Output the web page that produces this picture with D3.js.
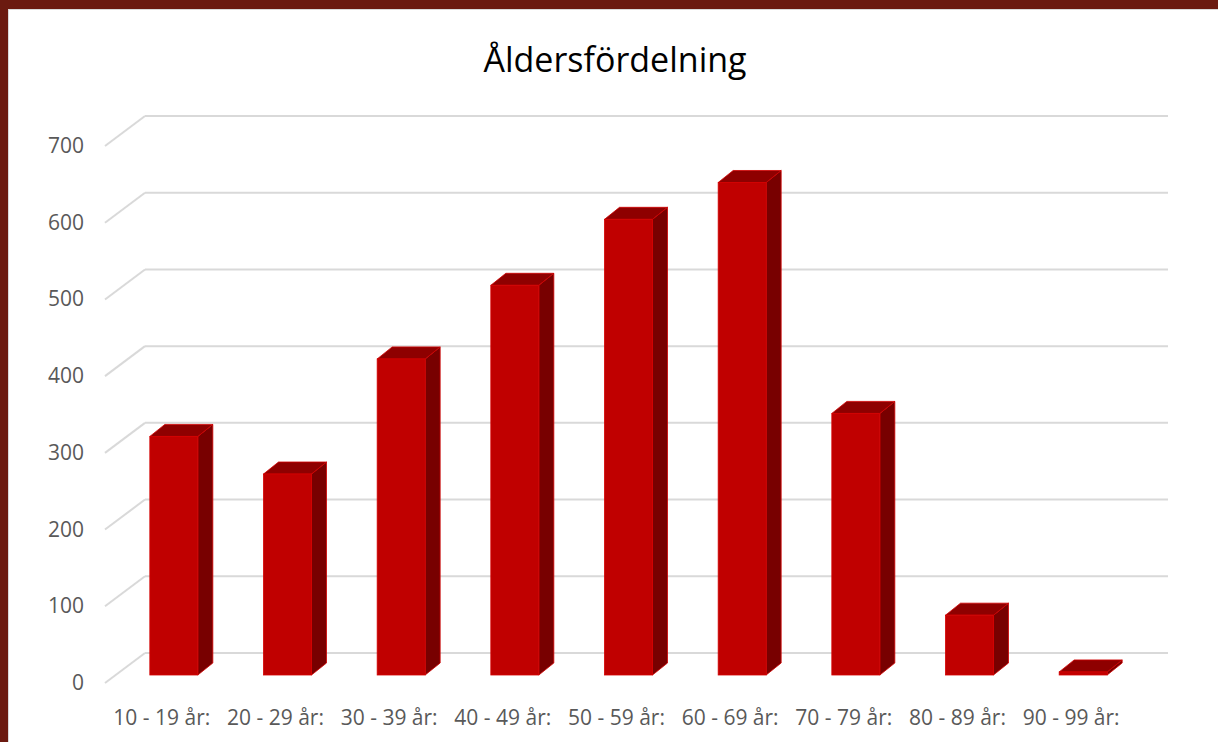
<!DOCTYPE html>
<head>
<meta charset="utf-8">
<title>Åldersfördelning</title>
<style>
body {
  margin: 0;
  background: #fff;
  font-family: "Open Sans", Arial, sans-serif;
}
.axis text {
  font-family: "Open Sans", Arial, sans-serif;
  font-size: 21px;
  fill: #595959;
}
.grid line {
  stroke: #d9d9d9;
  stroke-width: 2;
}
</style>
<script src="https://d3js.org/d3.v7.min.js"></script>
</head>

<body>
<script>
// data
var categories = ["10 - 19 år:", "20 - 29 år:", "30 - 39 år:", "40 - 49 år:", "50 - 59 år:",
                  "60 - 69 år:", "70 - 79 år:", "80 - 89 år:", "90 - 99 år:"];
var values = [311, 262, 412, 508, 594, 642, 341, 78, 4];
var yTicks = [0, 100, 200, 300, 400, 500, 600, 700];
var title = "Åldersfördelning";

var width = 1218,
    height = 742;

// front floor of the 3d box and its depth offset
var x0 = 105, x1 = 1128, yFloor = 683,
    depthX = 40, depthY = 30,
    barShiftX = 12, barShiftY = 8,   // bar front sits a bit inside the box
    barDepthX = 15, barDepthY = 12,
    barWidth = 48;

var xScale = d3.scaleBand()
               .domain(categories)
               .range([x0, x1]);
var yScale = d3.scaleLinear()
               .domain([0, 700])
               .range([0, 537]);

var svg = d3.select("body")
            .append("svg")
            .attr("width", width)
            .attr("height", height)
            .style("position", "absolute")
            .style("left", 0)
            .style("top", 0);

// border + chart area
svg.append("rect").attr("width", width).attr("height", height).attr("fill", "#6b1a10");
svg.append("rect").attr("x", 8).attr("y", 9).attr("width", width - 8).attr("height", height - 9)
   .attr("fill", "#d9d9d9");
svg.append("rect").attr("x", 9).attr("y", 10).attr("width", width - 9).attr("height", height - 10)
   .attr("fill", "#fff");

// title
svg.append("text")
   .attr("x", 615)
   .attr("y", 72)
   .attr("text-anchor", "middle")
   .style("font-family", "'Open Sans', Arial, sans-serif")
   .style("font-size", "34px")
   .attr("fill", "#000")
   .text(title);

// gridlines: diagonal on the side wall, horizontal on the back wall
var grid = svg.append("g").attr("class", "grid");
yTicks.forEach(function(t) {
  var yf = yFloor - yScale(t);
  grid.append("line")
      .attr("x1", x0).attr("y1", yf)
      .attr("x2", x0 + depthX).attr("y2", yf - depthY);
  grid.append("line")
      .attr("x1", x0 + depthX).attr("y1", yf - depthY)
      .attr("x2", x1 + depthX).attr("y2", yf - depthY);
});

// y labels
var yAx = svg.append("g").attr("class", "axis");
yAx.selectAll("text")
   .data(yTicks)
   .enter().append("text")
   .attr("x", 84)
   .attr("y", function(d) { return yFloor - yScale(d) + 7; })
   .attr("text-anchor", "end")
   .text(function(d) { return d; });

// x labels
yAx.selectAll(".xl")
   .data(categories)
   .enter().append("text")
   .attr("class", "xl")
   .attr("x", function(d) { return xScale(d) + xScale.bandwidth() / 2; })
   .attr("y", 725)
   .attr("text-anchor", "middle")
   .text(function(d) { return d; });

// bars
var bars = svg.selectAll(".bar")
              .data(categories.map(function(c, i) { return { name: c, count: values[i] }; }))
              .enter().append("g")
              .attr("class", "bar");

function pts(a) { return a.map(function(p) { return p.join(","); }).join(" "); }

bars.each(function(d) {
  var g = d3.select(this),
      left = xScale(d.name) + (xScale.bandwidth() - barWidth) / 2 + barShiftX,
      right = left + barWidth,
      bottom = yFloor - barShiftY,
      top = bottom - yScale(d.count),
      dx = barDepthX, dy = barDepthY;
  // side
  g.append("polygon")
   .attr("points", pts([[right, bottom], [right + dx, bottom - dy], [right + dx, top - dy], [right, top]]))
   .attr("fill", "#780000").attr("stroke", "#d00000").attr("stroke-width", 0.8);
  // top
  g.append("polygon")
   .attr("points", pts([[left, top], [left + dx, top - dy], [right + dx, top - dy], [right, top]]))
   .attr("fill", "#8e0000").attr("stroke", "#d00000").attr("stroke-width", 0.8);
  // front
  g.append("rect")
   .attr("x", left).attr("y", top)
   .attr("width", barWidth).attr("height", bottom - top)
   .attr("fill", "#c00000").attr("stroke", "#d40000").attr("stroke-width", 0.8);
});
</script>
</body>
